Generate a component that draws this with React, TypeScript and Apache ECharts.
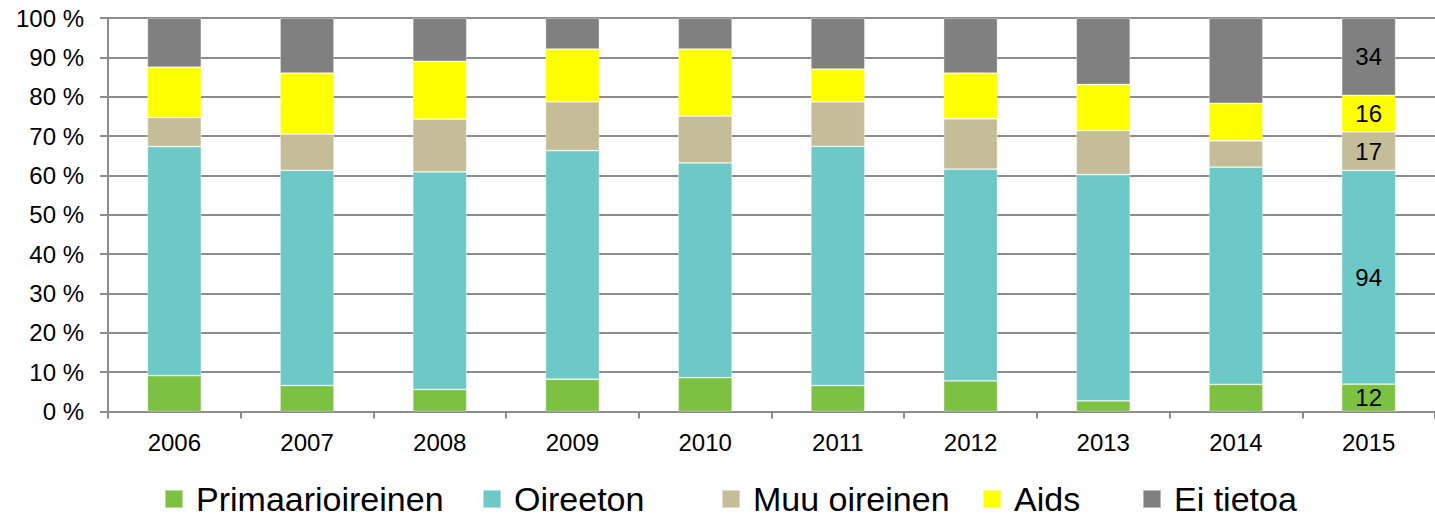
import React, { useEffect, useRef } from "react";
import * as echarts from "echarts";

const years = ["2006", "2007", "2008", "2009", "2010", "2011", "2012", "2013", "2014", "2015"];
const seriesNames = ["Primaarioireinen", "Oireeton", "Muu oireinen", "Aids", "Ei tietoa"];
const colors = ["#7dc142", "#6cc9c7", "#c4bd97", "#ffff00", "#808080"];

// Shares (%) for 2006–2014
const primaarioireinen = [9.1, 6.6, 5.6, 8.2, 8.6, 6.6, 7.8, 2.7, 6.9];
const oireeton = [58.2, 54.7, 55.3, 58.1, 54.6, 60.8, 53.8, 57.5, 55.2];
const muuOireinen = [7.4, 9.2, 13.4, 12.4, 11.9, 11.3, 12.8, 11.2, 6.7];
const aids = [12.8, 15.5, 14.7, 13.4, 17.0, 8.3, 11.6, 11.7, 9.5];
const eiTietoa = [12.5, 14.0, 11.0, 7.9, 7.9, 13.0, 14.0, 16.9, 21.7];

// 2015 counts, shown as labels
const counts2015 = [12, 94, 17, 16, 34];

const yTicks = [0, 10, 20, 30, 40, 50, 60, 70, 80, 90, 100];

export default function App() {
  const ref = useRef<HTMLDivElement>(null);
  useEffect(() => {
    if (!ref.current) return;
    const chart = echarts.init(ref.current, null, { renderer: "svg" });
    const total2015 = counts2015.reduce((a, b) => a + b, 0);
    const shares = [primaarioireinen, oireeton, muuOireinen, aids, eiTietoa].map((arr, i) => [
      ...arr,
      (counts2015[i] / total2015) * 100,
    ]);
    const font = "'Liberation Sans', Arial, sans-serif";
    const legendLefts = [164, 482, 721, 982, 1142];
    chart.setOption({
      animation: false,
      backgroundColor: "#ffffff",
      grid: { left: 108, top: 18, bottom: 108.5, right: -10, containLabel: false },
      legend: seriesNames.map((name, i) => ({
        data: [name],
        left: legendLefts[i],
        top: 482,
        padding: 0,
        itemWidth: 18,
        itemHeight: 18,
        icon: "rect",
        textStyle: {
          fontSize: 34,
          lineHeight: 34,
          color: "#000",
          fontFamily: font,
          padding: [0, 0, 0, 8],
        },
      })),
      xAxis: {
        type: "category",
        data: years,
        axisLine: { lineStyle: { color: "#8c8c8c", width: 2 } },
        axisTick: { show: true, length: 7, lineStyle: { color: "#8c8c8c", width: 2 } },
        axisLabel: { fontSize: 24, color: "#000", fontFamily: font, margin: 19 },
      },
      yAxis: {
        type: "value",
        min: yTicks[0],
        max: yTicks[yTicks.length - 1],
        interval: 10,
        axisLine: { show: true, lineStyle: { color: "#8c8c8c", width: 2 } },
        axisTick: { show: true, length: 8, lineStyle: { color: "#8c8c8c", width: 2 } },
        splitLine: { lineStyle: { color: "#8c8c8c", width: 2 } },
        axisLabel: {
          fontSize: 24,
          color: "#000",
          fontFamily: font,
          margin: 24,
          formatter: (v: number) => `${v} %`,
        },
      },
      series: seriesNames.map((name, i) => ({
        name,
        type: "bar",
        stack: "total",
        barWidth: 54,
        data: shares[i],
        itemStyle: { color: colors[i], borderColor: "rgba(255,255,255,0.45)", borderWidth: 0.8 },
        label: {
          show: true,
          position: "inside",
          fontSize: 24,
          color: "#000",
          fontFamily: font,
          formatter: (p: any) => (p.dataIndex === years.length - 1 ? String(counts2015[i]) : ""),
        },
      })),
    });
    return () => chart.dispose();
  }, []);
  return (
    <div
      ref={ref}
      style={{ position: "fixed", left: 0, top: 0, width: 1435, height: 520, background: "#fff" }}
    />
  );
}
